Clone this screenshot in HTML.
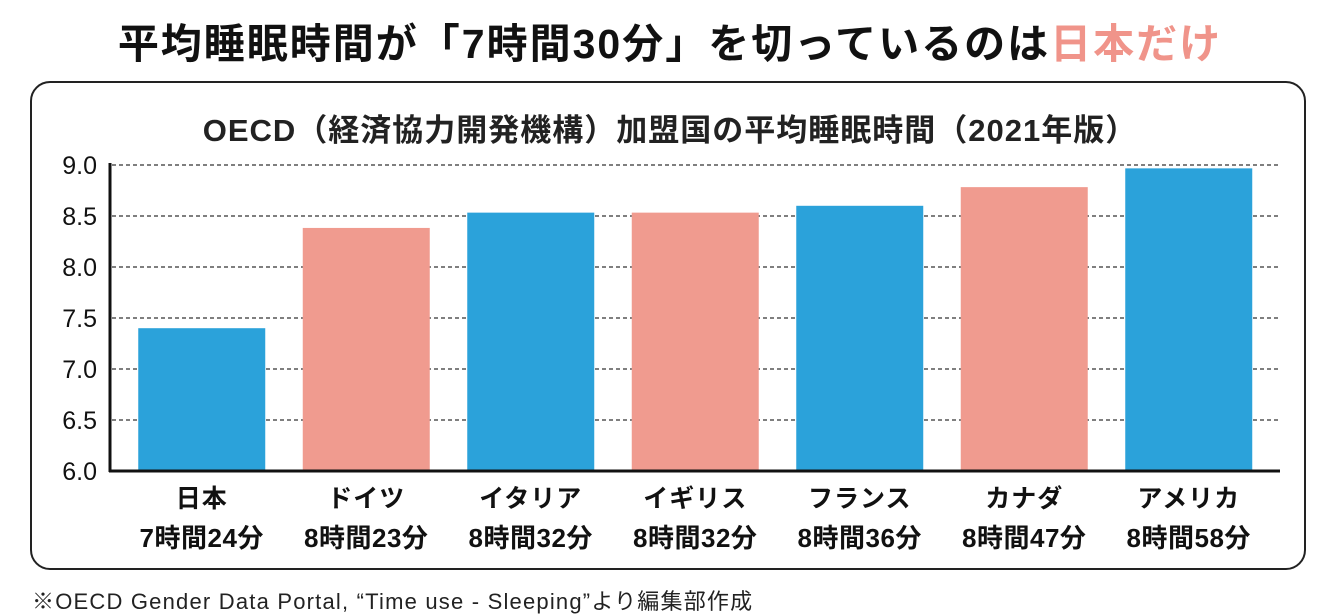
<!DOCTYPE html>
<html><head><meta charset="utf-8"><style>
html,body{margin:0;padding:0;background:#fff;}
body{width:1340px;height:615px;position:relative;overflow:hidden;font-family:"Liberation Sans","Noto Sans CJK JP",sans-serif;}
#title{position:absolute;left:0;width:1340px;top:10px;text-align:center;font-size:41px;font-weight:bold;color:#111;letter-spacing:2px;}
#title .hl{color:#f0948a;}
#box{position:absolute;left:30px;top:81px;width:1276px;height:489px;border:2.5px solid #222;border-radius:20px;box-sizing:border-box;}
#sub{position:absolute;left:0;width:1340px;top:105px;text-align:center;font-size:31px;font-weight:bold;color:#222;letter-spacing:1px;}
#note{position:absolute;left:32px;top:584px;font-size:22px;color:#222;letter-spacing:1.2px;}
svg{position:absolute;left:0;top:0;}
</style></head><body>
<div id="title">平均睡眠時間が「7時間30分」を切っているのは<span class="hl">日本だけ</span></div>
<div id="box"></div>
<div id="sub">OECD（経済協力開発機構）加盟国の平均睡眠時間（2021年版）</div>
<svg id="chart" width="1340" height="615"></svg>
<div id="note">※OECD Gender Data Portal, “Time use - Sleeping”より編集部作成</div>
<script>
const categories=["日本","ドイツ","イタリア","イギリス","フランス","カナダ","アメリカ"];
const labels=["7時間24分","8時間23分","8時間32分","8時間32分","8時間36分","8時間47分","8時間58分"];
const values=[7.40,8.383,8.533,8.533,8.6,8.783,8.967];
const colorKeys=["blue","pink","blue","pink","blue","pink","blue"];
const ticks=[6.0,6.5,7.0,7.5,8.0,8.5,9.0];
const palette={blue:"#2ba2da",pink:"#f09b8f"};
const NS="http://www.w3.org/2000/svg";
const svg=document.getElementById('chart');
const yMin=6,yMax=9,yTop=165,yBot=471;
const y=v=>yBot-(v-yMin)/(yMax-yMin)*(yBot-yTop);
const x0=119.5,band=164.5,bw=127;
const x=i=>x0+band*i+(band-bw)/2;
function mk(t,a){const e=document.createElementNS(NS,t);for(const k in a)e.setAttribute(k,a[k]);svg.appendChild(e);return e;}
ticks.forEach(t=>{
  if(t>yMin){const g=mk('line',{x1:112,x2:1280,y1:y(t),y2:y(t),stroke:'#333','stroke-width':1.2,'stroke-dasharray':'4,3'});
  
  }
  const l=mk('text',{x:97,y:y(t)+9,'text-anchor':'end','font-size':25,fill:'#111','font-family':'Liberation Sans, sans-serif'});
  l.textContent=t.toFixed(1);
  
  
});
values.forEach((v,i)=>{
  const r=mk('rect',{x:x(i),y:y(v),width:bw,height:yBot-y(v),fill:palette[colorKeys[i]]});
  
  
  const cx=x(i)+bw/2;
  const c=mk('text',{x:cx,y:507,'text-anchor':'middle','font-size':25,'font-weight':'bold',fill:'#111','letter-spacing':1});
  c.textContent=categories[i];
  
  
  const d=mk('text',{x:cx,y:547,'text-anchor':'middle','font-size':26,'font-weight':'bold',fill:'#111','letter-spacing':0.5});
  d.textContent=labels[i];
  
  
});
const ax=mk('line',{x1:110,x2:110,y1:163,y2:472,stroke:'#111','stroke-width':3});


const bx=mk('line',{x1:109,x2:1280,y1:471,y2:471,stroke:'#111','stroke-width':3});


</script>
</body></html>
